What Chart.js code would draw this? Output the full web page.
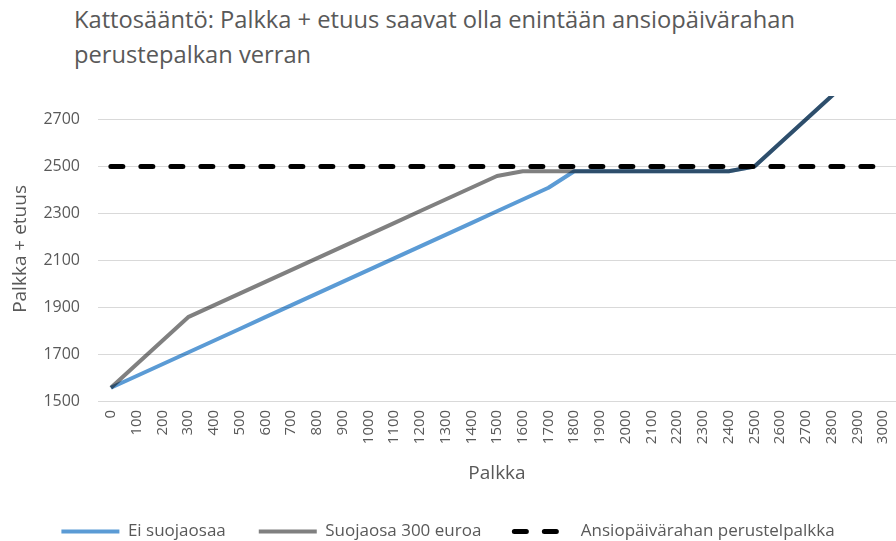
<!DOCTYPE html>
<html>
<head>
<meta charset="utf-8">
<script src="https://cdn.jsdelivr.net/npm/chart.js@4"></script>
<style>
  html, body { margin: 0; padding: 0; background: #fff; }
  #wrap { position: relative; width: 896px; height: 541px; }
  #title {
    position: absolute; left: 74px; top: 2px;
    font-family: "Open Sans", sans-serif; font-size: 23.7px; line-height: 35px;
    color: #595959;
  }
  canvas { position: absolute; left: 0; top: 0; }
</style>
</head>
<body>
<div id="wrap">
  <div id="title">Kattosääntö: Palkka + etuus saavat olla enintään ansiopäivärahan<br>perustepalkan verran</div>
  <canvas id="chart" width="896" height="541"></canvas>
</div>
<script>
// Palkka (x categories)
const palkka = ['0','100','200','300','400','500','600','700','800','900','1000',
  '1100','1200','1300','1400','1500','1600','1700','1800','1900','2000',
  '2100','2200','2300','2400','2500','2600','2700','2800','2900','3000'];

// Ei suojaosaa
const eiSuojaosaa = [1560,1610,1660,1710,1760,1810,1860,1910,1960,2010,2060,
  2110,2160,2210,2260,2310,2360,2410,2480,2480,2480,
  2480,2480,2480,2480,2500,2600,2700,2800,2900,3000];

// Suojaosa 300 euroa
const suojaosa300 = [1560,1660,1760,1860,1910,1960,2010,2060,2110,2160,2210,
  2260,2310,2360,2410,2460,2480,2480,2480,2480,2480,
  2480,2480,2480,2480,2500,2600,2700,2800,2900,3000];

// Ansiopäivärahan perustelpalkka
const perustepalkka = [2500,2500,2500,2500,2500,2500,2500,2500,2500,2500,2500,
  2500,2500,2500,2500,2500,2500,2500,2500,2500,2500,
  2500,2500,2500,2500,2500,2500,2500,2500,2500,2500];

const yTicks = [1500, 1700, 1900, 2100, 2300, 2500, 2700];

const FONT = '"Open Sans", sans-serif';
const TEXT = '#595959';

// overlapping lines darken each other like in the original
const multiplyLines = {
  id: 'multiplyLines',
  beforeDatasetsDraw(chart) {
    chart.ctx.save();
    chart.ctx.globalCompositeOperation = 'multiply';
  },
  afterDatasetsDraw(chart) {
    chart.ctx.restore();
  }
};

// legend samples drawn as the dataset lines (dash included)
function legendLabels(chart) {
  const items = Chart.defaults.plugins.legend.labels.generateLabels(chart);
  items.forEach(item => {
    const ds = chart.data.datasets[item.datasetIndex];
    item.strokeStyle = ds.borderColor;
    item.lineWidth = ds.borderWidth;
    item.lineDash = ds.borderDash || [];
    item.lineCap = ds.borderCapStyle || 'butt';
    item.pointStyle = 'line';
  });
  return items;
}

new Chart(document.getElementById('chart'), {
  type: 'line',
  data: {
    labels: palkka,
    datasets: [
      {
        label: 'Ei suojaosaa',
        data: eiSuojaosaa,
        borderColor: '#5B9BD5',
        backgroundColor: '#5B9BD5',
        borderWidth: 4,
        borderJoinStyle: 'round',
        pointRadius: 0,
        tension: 0
      },
      {
        label: 'Suojaosa 300 euroa',
        data: suojaosa300,
        borderColor: '#808080',
        backgroundColor: '#808080',
        borderWidth: 4,
        borderJoinStyle: 'round',
        pointRadius: 0,
        tension: 0
      },
      {
        label: 'Ansiopäivärahan perustelpalkka',
        data: perustepalkka,
        borderColor: '#000000',
        backgroundColor: '#000000',
        borderWidth: 5,
        borderDash: [12, 18],
        borderCapStyle: 'round',
        pointRadius: 0,
        tension: 0
      }
    ]
  },
  options: {
    responsive: false,
    animation: false,
    layout: { padding: { top: 96, right: 0, bottom: -9, left: 0 } },
    plugins: {
      legend: {
        position: 'bottom',
        labels: {
          usePointStyle: true,
          pointStyle: 'line',
          pointStyleWidth: 58,
          generateLabels: legendLabels,
          color: TEXT,
          padding: 33,
          font: { family: FONT, size: 17 }
        }
      },
      title: { display: false },
      tooltip: { enabled: false }
    },
    scales: {
      x: {
        offset: true,
        afterFit: s => { s.paddingLeft = 0; s.paddingRight = 0; },
        grid: { display: false, drawTicks: false },
        border: { display: false },
        ticks: {
          autoSkip: false,
          maxRotation: 90,
          minRotation: 90,
          padding: 8,
          color: TEXT,
          font: { family: FONT, size: 15 }
        },
        title: {
          display: true,
          text: 'Palkka',
          color: TEXT,
          padding: { top: 10, bottom: 5 },
          font: { family: FONT, size: 19 }
        }
      },
      y: {
        min: 1500,
        max: 2800,
        afterBuildTicks: s => { s.ticks = yTicks.map(v => ({ value: v })); },
        afterFit: s => { s.width = 98; },
        grid: { color: '#D9D9D9', lineWidth: 1, drawTicks: false },
        border: { display: false },
        ticks: {
          padding: 18,
          color: TEXT,
          font: { family: FONT, size: 16 },
          callback: v => String(v)
        },
        title: {
          display: true,
          text: 'Palkka + etuus',
          color: TEXT,
          padding: { top: 9, bottom: 12 },
          font: { family: FONT, size: 19 }
        }
      }
    }
  },
  plugins: [multiplyLines]
});
</script>
</body>
</html>
